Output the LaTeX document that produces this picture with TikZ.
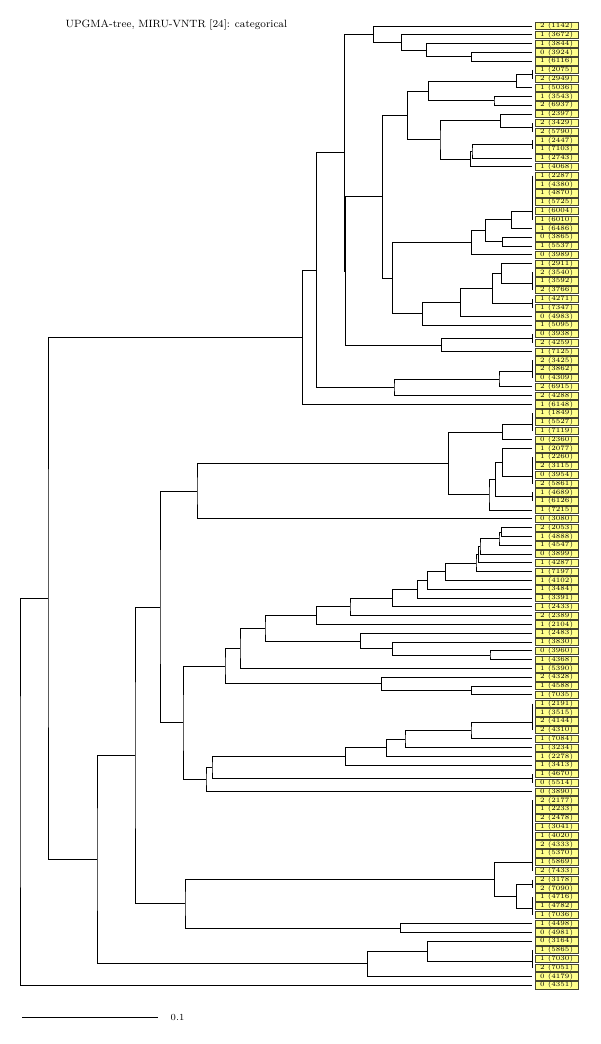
\documentclass[tikz,border=0pt]{standalone}
\usetikzlibrary{calc}
\definecolor{labfill}{RGB}{255,255,140}
\definecolor{labdraw}{RGB}{70,70,50}
\newcommand\jn[4]{%
  \path ($(#3)!0.5!(#4)$) coordinate (tmpmid);
  \path let \p1=(tmpmid), \p2=(#2,0) in coordinate (#1) at (\x2,\y1);
  \draw[br] (#3) -| (#1) |- (#4);}
\newcommand\tg[4]{%
  \coordinate (#1) at (532,#2);
  \draw[br] (t#3) -- (t#4);}
\begin{document}
\begin{tikzpicture}[x=0.75pt,y=-0.75pt,
  br/.style={draw=black,line width=0.55pt},
  lab/.style={draw=labdraw,fill=labfill,line width=0.4pt,inner sep=0pt,
    minimum width=32pt,minimum height=5.6pt,anchor=west,
    font=\fontsize{5}{5}\selectfont}]
\useasboundingbox (0,0) rectangle (600,1044);
\node[anchor=base west,font=\fontsize{7.9}{9}\selectfont] (title) at (61,28) {UPGMA-tree, MIRU-VNTR [24]: categorical};
\foreach \t [count=\i] in {2 (1142),1 (3672),1 (3844),0 (3924),1 (6116),1 (2075),2 (2949),1 (5036),1 (3543),2 (6937),
1 (2397),2 (3429),2 (5790),1 (2447),1 (7103),1 (2743),1 (4068),1 (2287),1 (4380),1 (4870),
1 (5725),1 (6004),1 (6010),1 (6486),0 (3865),1 (5537),0 (3989),1 (2911),2 (3540),1 (3592),
2 (3766),1 (4271),1 (7347),0 (4983),1 (5095),0 (3938),2 (4259),1 (7125),2 (3425),2 (3862),
0 (4309),2 (6915),2 (4288),1 (6148),1 (1849),1 (5527),1 (7119),0 (2360),1 (2077),1 (2260),
2 (3115),0 (3954),2 (5861),1 (4689),1 (6126),1 (7215),0 (3080),2 (2053),1 (4888),1 (4547),
0 (3899),1 (4287),1 (7197),1 (4102),1 (3484),1 (3391),1 (2433),2 (2389),1 (2104),1 (2483),
1 (3830),0 (3960),1 (4368),1 (5390),2 (4328),1 (4588),1 (7035),1 (2191),1 (3515),2 (4144),
2 (4310),1 (7084),1 (3234),1 (2278),1 (3413),1 (4670),0 (5514),0 (3890),2 (2177),1 (2233),
2 (2478),1 (3041),1 (4020),2 (4333),1 (5370),1 (5869),2 (7433),2 (3178),2 (7090),1 (4716),
1 (4782),1 (7036),1 (4498),0 (4981),0 (3164),1 (5865),1 (7030),2 (7051),0 (4179),0 (4351)}{
  \coordinate (t\i) at (532,{26+(\i-1)*8.8});
  \node[lab] (L\i) at (535,{26+(\i-1)*8.8}) {\t};
}
% ---- top cluster
\jn{z67}{532}{t6}{t7}
\jn{n1}{471.7}{t4}{t5}
\jn{n2}{426.7}{t3}{n1}
\jn{n3}{401.7}{t2}{n2}
\jn{n4}{373.3}{t1}{n3}
\jn{n5}{516.7}{z67}{t8}
\jn{n6}{494}{t9}{t10}
\jn{n7}{428.3}{n5}{n6}
\jn{z1213}{532}{t12}{t13}
\jn{n8}{500.7}{t11}{z1213}
\jn{z1415}{532}{t14}{t15}
\jn{n9}{472}{z1415}{t16}
\jn{n10}{470.5}{n9}{t17}
\jn{n11}{440}{n8}{n10}
\jn{n12}{407.3}{n7}{n11}
\tg{g18}{211}{18}{23}
\jn{n14}{511.7}{g18}{t24}
\jn{n15}{502.3}{t25}{t26}
\jn{n16}{485.7}{n14}{n15}
\jn{n17}{471.7}{n16}{t27}
\tg{g29}{283.4}{29}{31}
\jn{n18}{501.7}{t28}{g29}
\jn{z3233}{532}{t32}{t33}
\jn{n19}{492.3}{n18}{z3233}
\jn{n20}{460.7}{n19}{t34}
\jn{n21}{422.7}{n20}{t35}
\jn{nC}{392.3}{n17}{n21}
\jn{n13}{382.7}{n12}{nC}
\jn{z3637}{532}{t36}{t37}
\jn{nV}{441.7}{z3637}{t38}
\jn{nU}{345.7}{n13}{nV}
\jn{nT}{344.3}{n4}{nU}
\tg{g39}{371.4}{39}{41}
\jn{nQ}{499}{g39}{t42}
\jn{nR}{394}{nQ}{t43}
\jn{nP}{316.7}{nT}{nR}
\jn{nS}{302.7}{nP}{t44}
% ---- middle cluster
\tg{g45}{424.2}{45}{47}
\jn{m1}{502.3}{g45}{t48}
\tg{g50}{475.9}{50}{53}
\jn{m2}{502.3}{t49}{g50}
\jn{z5455}{532}{t54}{t55}
\jn{m3}{495.7}{m2}{z5455}
\jn{m4}{489}{m3}{t56}
\jn{m5}{448.3}{m1}{m4}
\jn{m6}{197}{m5}{t57}
% ---- lower middle
\jn{l1}{501.7}{t58}{t59}
\jn{l2}{499}{l1}{t60}
\jn{l3}{480}{l2}{t61}
\jn{l4}{478.3}{l3}{t62}
\jn{l5}{476}{l4}{t63}
\jn{l6}{445.7}{l5}{t64}
\jn{l7}{427.7}{l6}{t65}
\jn{l8}{417.3}{l7}{t66}
\jn{l9}{392.3}{l8}{t67}
\jn{l10}{350}{l9}{t68}
\jn{l11}{316.7}{l10}{t69}
\jn{l13}{490}{t72}{t73}
\jn{l14}{392.3}{t71}{l13}
\jn{l15}{360.7}{t70}{l14}
\jn{l16}{471.7}{t76}{t77}
\jn{l17}{381.7}{t75}{l16}
\tg{g78}{722.3}{78}{81}
\jn{l18}{471}{g78}{t82}
\jn{l19}{405}{l18}{t83}
\jn{l20}{386.7}{l19}{t84}
\jn{l21}{345.7}{l20}{t85}
\jn{z8687}{532}{t86}{t87}
% ---- bottom cluster
\tg{g89}{862}{89}{97}
\jn{z9899}{532}{t98}{t99}
\tg{g100}{908.2}{100}{102}
\jn{b4}{516.7}{z9899}{g100}
\jn{b5}{494.3}{g89}{b4}
\jn{b6}{400.7}{t103}{t104}
\tg{g106}{961}{106}{108}
\jn{b7}{427.7}{t105}{g106}
\jn{b8}{367.3}{b7}{t109}
% ---- left part
\jn{k1}{265}{l11}{l15}
\jn{k2}{240}{k1}{t74}
\jn{k3}{225}{k2}{l17}
\jn{k4}{212}{l21}{z8687}
\jn{k5}{206}{k4}{t88}
\jn{k6}{183}{k3}{k5}
\jn{k7}{160}{m6}{k6}
\jn{k8}{185}{b5}{b6}
\jn{k10}{135}{k7}{k8}
\jn{k9}{97}{k10}{b8}
\jn{k11}{48}{nS}{k9}
\jn{root}{20}{k11}{t110}
% ---- scale bar
\coordinate (s0) at (22,1017);
\coordinate (s1) at (158,1017);
\draw[br] (s0) -- (s1);
\node[anchor=west,font=\fontsize{7}{7}\selectfont] (sl) at (166,1017) {0.1};
\end{tikzpicture}
\end{document}
